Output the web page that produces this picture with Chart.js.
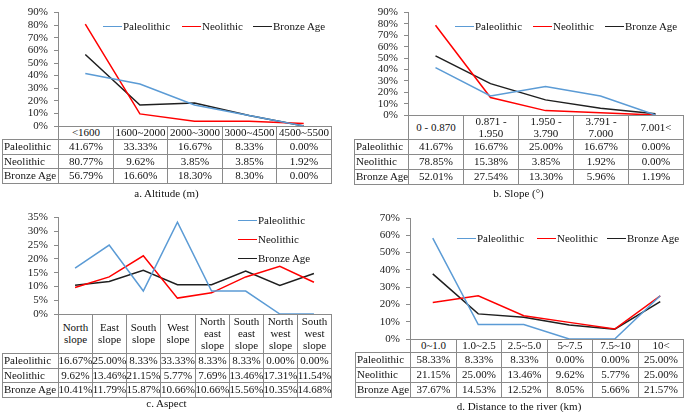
<!DOCTYPE html>
<html>
<head>
<meta charset="utf-8">
<script src="https://cdn.jsdelivr.net/npm/chart.js@4"></script>
<style>
body{margin:0;background:#fff;font-family:"Liberation Serif","Times New Roman",serif;color:#111}
#page{position:relative;width:685px;height:412px;overflow:hidden;background:#fff}
.panel{position:absolute}
.panel canvas{position:absolute;left:0;top:0}
.cell{position:absolute;box-sizing:border-box;border:1px solid #8a8a8a;display:flex;align-items:center;justify-content:center;text-align:center;font-size:11px;line-height:11.7px;white-space:nowrap;background:#fff}
.cell.lab{justify-content:flex-start;padding-left:1px}
.cap{position:absolute;font-size:11px;white-space:nowrap;transform:translate(-50%,-50%)}
.leg{position:absolute;font-size:11px;display:flex;align-items:center;white-space:nowrap;transform:translateY(-50%)}
.leg i{display:inline-block;width:19px;height:0;border-top:1.5px solid;margin-right:1px}
</style>
</head>
<body>
<div id="page"></div>
<script>
const seriesNames = ['Paleolithic', 'Neolithic', 'Bronze Age'];
const seriesColors = ['#5b9bd5', '#ff0000', '#1f1f1f'];

// a. Altitude (m)
const altitudeCats = ['<1600', '1600~2000', '2000~3000', '3000~4500', '4500~5500'];
const altitudePaleo = [41.67, 33.33, 16.67, 8.33, 0.00];
const altitudeNeo = [80.77, 9.62, 3.85, 3.85, 1.92];
const altitudeBronze = [56.79, 16.60, 18.30, 8.30, 0.00];

// b. Slope
const slopeCats = ['0 - 0.870', ['0.871 -', '1.950'], ['1.950 -', '3.790'], ['3.791 -', '7.000'], '7.001<'];
const slopePaleo = [41.67, 16.67, 25.00, 16.67, 0.00];
const slopeNeo = [78.85, 15.38, 3.85, 1.92, 0.00];
const slopeBronze = [52.01, 27.54, 13.30, 5.96, 1.19];

// c. Aspect
const aspectCats = [['North', 'slope'], ['East', 'slope'], ['South', 'slope'], ['West', 'slope'],
  ['North', 'east', 'slope'], ['South', 'east', 'slope'], ['North', 'west', 'slope'], ['South', 'west', 'slope']];
const aspectPaleo = [16.67, 25.00, 8.33, 33.33, 8.33, 8.33, 0.00, 0.00];
const aspectNeo = [9.62, 13.46, 21.15, 5.77, 7.69, 13.46, 17.31, 11.54];
const aspectBronze = [10.41, 11.79, 15.87, 10.66, 10.66, 15.56, 10.35, 14.68];

// d. Distance to the river (km)
const riverCats = ['0~1.0', '1.0~2.5', '2.5~5.0', '5~7.5', '7.5~10', '10<'];
const riverPaleo = [58.33, 8.33, 8.33, 0.00, 0.00, 25.00];
const riverNeo = [21.15, 25.00, 13.46, 9.62, 5.77, 25.00];
const riverBronze = [37.67, 14.53, 12.52, 8.05, 5.66, 21.57];

const panels = [
  {
    cats: altitudeCats, series: [altitudePaleo, altitudeNeo, altitudeBronze],
    yMax: 90, yStep: 10, caption: 'a. Altitude (m)',
    box: {left: 0, top: 0, width: 340, height: 210},
    area: {left: 58, right: 331, top: 6, bottom: 126},
    tableLeft: 2, headerH: 13, rowH: 14.7, captionY: 193,
    legend: [[103, 26], [182, 26], [253, 26]]
  },
  {
    cats: slopeCats, series: [slopePaleo, slopeNeo, slopeBronze],
    yMax: 90, yStep: 10, caption: 'b. Slope (°)',
    box: {left: 340, top: 0, width: 345, height: 210},
    area: {left: 68, right: 343, top: 5, bottom: 115},
    tableLeft: 14, headerH: 24, rowH: 15, captionY: 193,
    legend: [[115, 26], [193, 26], [265, 26]]
  },
  {
    cats: aspectCats, series: [aspectPaleo, aspectNeo, aspectBronze],
    yMax: 35, yStep: 5, caption: 'c. Aspect',
    box: {left: 0, top: 205, width: 340, height: 207},
    area: {left: 58, right: 331, top: 12, bottom: 109},
    tableLeft: 2, headerH: 39, rowH: 14.7, captionY: 198,
    legend: [[238, 15], [238, 34], [238, 53]]
  },
  {
    cats: riverCats, series: [riverPaleo, riverNeo, riverBronze],
    yMax: 70, yStep: 10, caption: 'd. Distance to the river (km)',
    box: {left: 340, top: 205, width: 345, height: 207},
    area: {left: 70, right: 343, top: 13, bottom: 134},
    tableLeft: 15, headerH: 13, rowH: 15, captionY: 201,
    legend: [[117, 33], [197, 33], [267, 33]]
  }
];

const page = document.getElementById('page');

function addCell(parent, x0, y0, x1, y1, html, cls) {
  const d = document.createElement('div');
  d.className = 'cell' + (cls ? ' ' + cls : '');
  const l = Math.round(x0), t = Math.round(y0);
  d.style.left = l + 'px';
  d.style.top = t + 'px';
  d.style.width = (Math.round(x1) - l + 1) + 'px';
  d.style.height = (Math.round(y1) - t + 1) + 'px';
  d.innerHTML = html;
  parent.appendChild(d);
}

function makePanel(p) {
  const div = document.createElement('div');
  div.className = 'panel';
  Object.assign(div.style, {
    left: p.box.left + 'px', top: p.box.top + 'px',
    width: p.box.width + 'px', height: p.box.height + 'px'
  });
  page.appendChild(div);
  const canvas = document.createElement('canvas');
  canvas.width = p.box.width;
  canvas.height = p.box.height;
  div.appendChild(canvas);

  const chart = new Chart(canvas, {
    type: 'line',
    data: {
      labels: p.cats,
      datasets: p.series.map((s, i) => ({
        label: seriesNames[i],
        data: s,
        borderColor: seriesColors[i],
        backgroundColor: seriesColors[i],
        borderWidth: 1.5,
        pointRadius: 0,
        tension: 0
      }))
    },
    options: {
      responsive: false,
      animation: false,
      devicePixelRatio: 1,
      layout: {
        autoPadding: false,
        padding: {
          left: 0,
          top: p.area.top,
          right: p.box.width - p.area.right,
          bottom: p.box.height - p.area.bottom
        }
      },
      plugins: {legend: {display: false}, tooltip: {enabled: false}},
      scales: {
        x: {display: false, offset: true},
        y: {
          min: 0, max: p.yMax,
          ticks: {
            stepSize: p.yStep,
            autoSkip: false,
            callback: v => v + '%',
            color: '#222',
            padding: 6,
            font: {family: 'Liberation Serif', size: 11}
          },
          grid: {drawOnChartArea: false, drawTicks: true, tickLength: 4, color: '#8a8a8a'},
          border: {color: '#8a8a8a'},
          afterFit: s => { s.width = p.area.left; }
        }
      }
    }
  });

  // data table under the plot, aligned to the category scale
  const xs = chart.scales.x;
  const area = chart.chartArea;
  const n = p.cats.length;
  const colW = (xs.right - xs.left) / n;
  const edges = p.cats.map((c, i) => xs.getPixelForValue(i) - colW / 2);
  edges.push(xs.right);

  let y = area.bottom;
  p.cats.forEach((c, i) => {
    const txt = Array.isArray(c) ? c.join('<br>') : c;
    addCell(div, edges[i], y, edges[i + 1], y + p.headerH, txt);
  });
  y += p.headerH;
  p.series.forEach((s, k) => {
    addCell(div, p.tableLeft, y, area.left, y + p.rowH, seriesNames[k], 'lab');
    s.forEach((v, i) => {
      addCell(div, edges[i], y, edges[i + 1], y + p.rowH, v.toFixed(2) + '%');
    });
    y += p.rowH;
  });

  const cap = document.createElement('div');
  cap.className = 'cap';
  cap.style.left = ((p.tableLeft + area.right) / 2) + 'px';
  cap.style.top = p.captionY + 'px';
  cap.textContent = p.caption;
  div.appendChild(cap);

  p.legend.forEach((pos, i) => {
    const lg = document.createElement('div');
    lg.className = 'leg';
    lg.style.left = pos[0] + 'px';
    lg.style.top = pos[1] + 'px';
    lg.innerHTML = '<i style="border-color:' + seriesColors[i] + '"></i>' + seriesNames[i];
    div.appendChild(lg);
  });
}

panels.forEach(makePanel);
</script>
</body>
</html>
